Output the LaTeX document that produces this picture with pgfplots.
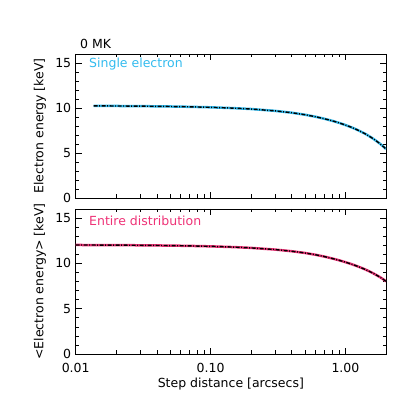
\documentclass[border=0pt]{standalone}
\usepackage{fontspec}
\setmainfont{DejaVu Sans}
\usepackage{pgfplots}
\pgfplotsset{compat=1.18}
\definecolor{cyanline}{HTML}{33BBEE}
\definecolor{pinkline}{HTML}{EE3377}
\pgfplotstableread{
x y
0.0136 10.237
0.02 10.224
0.03 10.206
0.05 10.169
0.07 10.132
0.1 10.076
0.15 9.981
0.2 9.886
0.3 9.683
0.4 9.476
0.5 9.255
0.6 9.030
0.7 8.799
0.8 8.574
0.9 8.343
1.0 8.106
1.1 7.872
1.2 7.632
1.3 7.384
1.4 7.137
1.5 6.871
1.6 6.605
1.7 6.326
1.8 6.044
1.9 5.746
2.0 5.45
}\single
\pgfplotstableread{
x y
0.01 12.030
0.02 12.013
0.03 11.996
0.05 11.963
0.07 11.929
0.1 11.879
0.15 11.794
0.2 11.708
0.3 11.525
0.4 11.340
0.5 11.151
0.6 10.950
0.7 10.746
0.8 10.538
0.9 10.337
1.0 10.133
1.1 9.935
1.2 9.733
1.3 9.536
1.4 9.336
1.5 9.130
1.6 8.919
1.7 8.702
1.8 8.490
1.9 8.261
2.0 8.02
}\entire
\pgfplotsset{
  myaxis/.style={
    scale only axis, width=310.3pt,
    xmin=0.01, xmax=2,
    ymin=0, ymax=16, ytick={0,5,10,15}, minor y tick num=4,
    xtick={0.01,0.1,1},
    minor xtick={0.02,0.03,0.04,0.05,0.06,0.07,0.08,0.09,0.2,0.3,0.4,0.5,0.6,0.7,0.8,0.9,2},
    tick align=inside, tick pos=both,
    major tick length=6pt, minor tick length=3.5pt,
    every tick/.style={black, line width=0.6pt},
    axis line style={line width=0.8pt, black},
    ylabel style={at={(axis description cs:-0.115,0.5)}, anchor=center},
    yticklabel style={xshift=-1pt},
    xticklabel style={yshift=-6pt},
    /pgf/number format/assume math mode=true,
    clip mode=individual,
  },
  colline/.style={line width=2.5pt},
  blkline/.style={black, line width=1.4pt, dash pattern=on 4pt off 1.5pt on 1pt off 1.5pt},
}
\begin{document}
\begin{tikzpicture}[font=\fontsize{12.5}{15}\selectfont]
\useasboundingbox (0pt,0pt) rectangle (409pt,409pt);
\begin{semilogxaxis}[myaxis, at={(75.7pt,211pt)}, anchor=south west, height=144pt,
  xticklabels={}, ylabel={Electron energy [keV]}]
\addplot[colline, cyanline] table[x=x,y=y] {\single};
\addplot[blkline] table[x=x,y=y] {\single};
\node[anchor=west, text=cyanline, inner sep=0pt] at (rel axis cs:0.043,0.93) {Single electron};
\node[anchor=base west, inner sep=0pt] at (rel axis cs:0.014,1.035) {0 MK};
\end{semilogxaxis}
\begin{semilogxaxis}[myaxis, at={(75.7pt,55pt)}, anchor=south west, height=145pt,
  xticklabels={0.01,0.10,1.00}, ylabel={<Electron energy> [keV]},
  xlabel={Step distance [arcsecs]},
  xlabel style={at={(axis description cs:0.5,-0.21)}, anchor=center}]
\addplot[colline, pinkline] table[x=x,y=y] {\entire};
\addplot[blkline] table[x=x,y=y] {\entire};
\node[anchor=west, text=pinkline, inner sep=0pt] at (rel axis cs:0.043,0.919) {Entire distribution};
\end{semilogxaxis}
\end{tikzpicture}
\end{document}
